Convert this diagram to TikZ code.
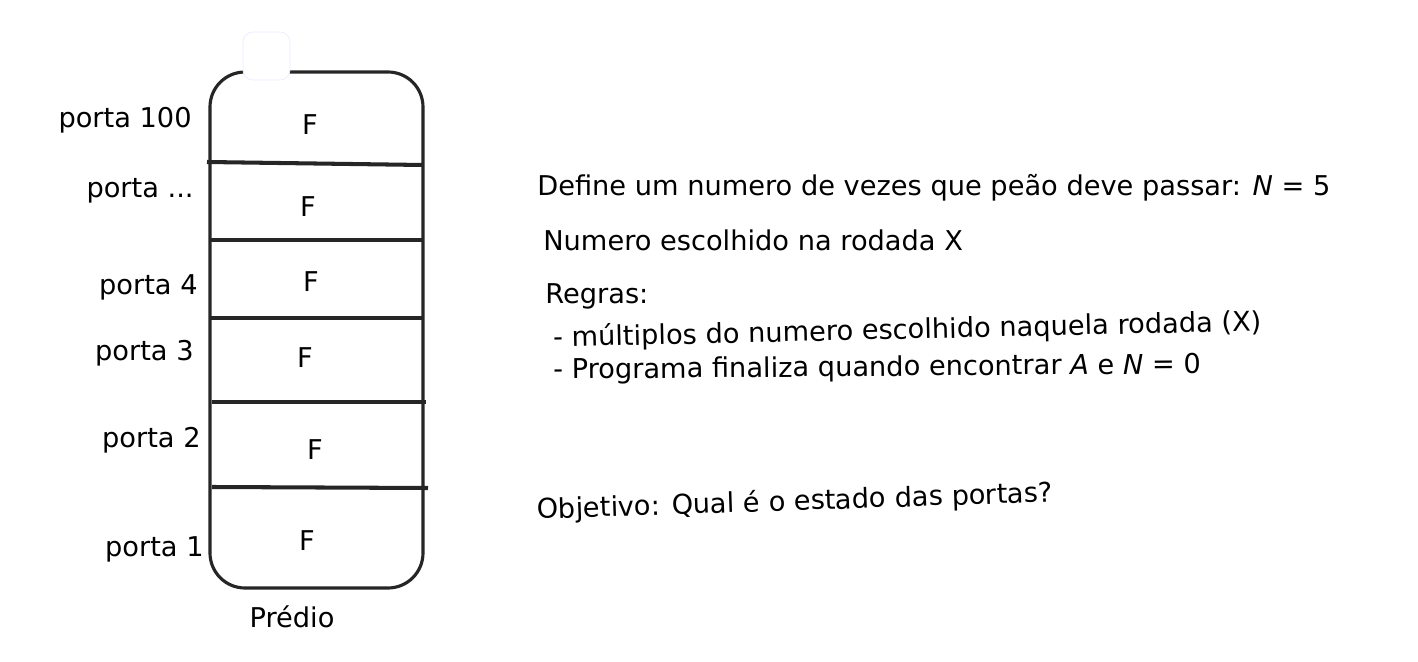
\documentclass[tikz,border=0pt]{standalone}
\usepackage{fontspec}
\setmainfont{DejaVu Sans}
\begin{document}
\begin{tikzpicture}[
  x=0.02cm, y=-0.02cm,
  rotulo/.style={font=\fontsize{15.5}{18}\selectfont, inner sep=0pt},
  andar/.style={font=\fontsize{15.5}{18}\selectfont, inner sep=0pt},
  divisa/.style={line width=2.3pt, draw=black!85},
  ]
 \useasboundingbox (0,0) rectangle (1418,662);
 % predio
 \node [draw=black!85, line width=1.8pt, rounded corners=0.7cm, minimum width=213*0.02cm, minimum height=516*0.02cm, inner sep=0pt] (predio) at (316.5,330) {};
 \draw [divisa] (207,162) -- (423,165);
 \draw [divisa] (210,240) -- (423,240);
 \draw [divisa] (210,318) -- (423,318);
 \draw [divisa] (212,402) -- (426,402);
 \draw [divisa] (212,487) -- (428,488);
 \draw [draw=blue!8, fill=white, rounded corners=0.2cm] (243,32) rectangle (290,80);
 % estados
 \node [andar] (f100) at (310,125) {F};
 \node [andar] (fdots) at (308,207) {F};
 \node [andar] (f4) at (311,282) {F};
 \node [andar] (f3) at (305,358) {F};
 \node [andar] (f2) at (315,450) {F};
 \node [andar] (f1) at (307,541) {F};
 % portas
 \node [rotulo, anchor=base east] (p100) at (192,128) {porta 100};
 \node [rotulo, anchor=base east] (pdots) at (194,198) {porta ...};
 \node [rotulo, anchor=base east] (p4) at (198,295) {porta 4};
 \node [rotulo, anchor=base east] (p3) at (194,361) {porta 3};
 \node [rotulo, anchor=base east] (p2) at (201,448) {porta 2};
 \node [rotulo, anchor=base east] (p1) at (204,557) {porta 1};
 \node [rotulo, anchor=base] (nome) at (292,627) {Prédio};
 % regras
 \node [rotulo, anchor=base west] (define) at (537,196) {Define um numero de vezes que peão deve passar: \textit{N} = 5};
 \node [rotulo, anchor=base west] (numero) at (543,251) {Numero escolhido na rodada X};
 \node [rotulo, anchor=base west] (regras) at (545,304) {Regras:};
 \node [rotulo, anchor=base west, rotate=1.3] (regra1) at (553,347) {- múltiplos do numero escolhido naquela rodada (X)};
 \node [rotulo, anchor=base west, rotate=0.5] (regra2) at (553,379) {- Programa finaliza quando encontrar \textit{A} e \textit{N} = 0};
 \node [rotulo, anchor=base west, rotate=1.9] (objetivo) at (537,519) {Objetivo: Qual é o estado das portas?};
\end{tikzpicture}
\end{document}
